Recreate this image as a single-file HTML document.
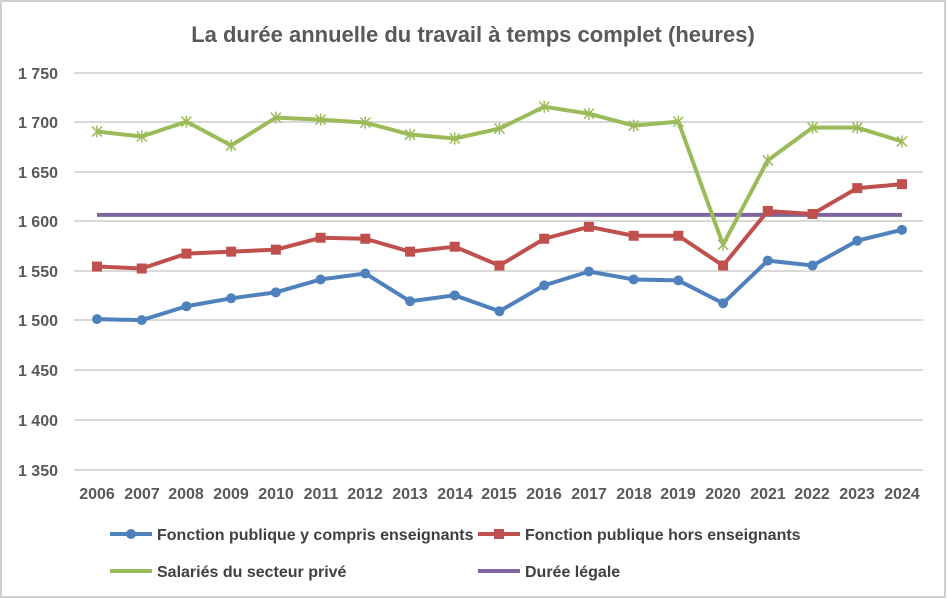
<!DOCTYPE html>
<html><head><meta charset="utf-8"><style>
html,body{margin:0;padding:0;background:#fff;}
svg{display:block;font-family:"Liberation Sans",Arial,sans-serif;}
.yl{font-size:16px;fill:#595959;font-weight:bold;text-anchor:end;}
.xl{font-size:16px;fill:#595959;font-weight:bold;text-anchor:middle;}
.lg{font-size:16px;fill:#404040;font-weight:bold;}
</style></head><body>
<svg id="s" width="947" height="599" viewBox="0 0 947 599">
<rect x="1" y="1" width="944" height="596" fill="#fff" stroke="#d0d0d0" stroke-width="2"/>
<text x="473" y="42" text-anchor="middle" font-size="22" font-weight="bold" fill="#595959">La durée annuelle du travail à temps complet (heures)</text>
<g stroke="#d9d9d9" stroke-width="2">
<line x1="74" x2="923" y1="73" y2="73"/><line x1="74" x2="923" y1="122" y2="122"/>
<line x1="74" x2="923" y1="172" y2="172"/><line x1="74" x2="923" y1="221" y2="221"/>
<line x1="74" x2="923" y1="271" y2="271"/><line x1="74" x2="923" y1="320" y2="320"/>
<line x1="74" x2="923" y1="370" y2="370"/><line x1="74" x2="923" y1="420" y2="420"/>
<line x1="74" x2="923" y1="470" y2="470"/>
</g>
<g class="yl">
<text x="58" y="79">1 750</text><text x="58" y="128">1 700</text><text x="58" y="178">1 650</text>
<text x="58" y="227">1 600</text><text x="58" y="277">1 550</text><text x="58" y="326">1 500</text>
<text x="58" y="376">1 450</text><text x="58" y="426">1 400</text><text x="58" y="476">1 350</text>
</g>
<g class="xl">
<text x="97" y="499">2006</text><text x="142" y="499">2007</text><text x="186" y="499">2008</text>
<text x="231" y="499">2009</text><text x="276" y="499">2010</text><text x="321" y="499">2011</text>
<text x="365" y="499">2012</text><text x="410" y="499">2013</text><text x="455" y="499">2014</text>
<text x="499" y="499">2015</text><text x="544" y="499">2016</text><text x="589" y="499">2017</text>
<text x="634" y="499">2018</text><text x="678" y="499">2019</text><text x="723" y="499">2020</text>
<text x="768" y="499">2021</text><text x="812" y="499">2022</text><text x="857" y="499">2023</text>
<text x="902" y="499">2024</text>
</g>
<g id="series"></g>
<g>
<line x1="110" x2="152" y1="534" y2="534" stroke="#4f81bd" stroke-width="4"/><circle cx="131" cy="534" r="5" fill="#4f81bd"/>
<text class="lg" x="157" y="540">Fonction publique y compris enseignants</text>
<line x1="478" x2="520" y1="534" y2="534" stroke="#c0504d" stroke-width="4"/><rect x="494" y="529" width="10" height="10" fill="#c0504d"/>
<text class="lg" x="525" y="540">Fonction publique hors enseignants</text>
<line x1="110" x2="152" y1="571" y2="571" stroke="#9bbb59" stroke-width="4"/>
<text class="lg" x="157" y="577">Salariés du secteur privé</text>
<line x1="478" x2="520" y1="571" y2="571" stroke="#8064a2" stroke-width="4"/>
<text class="lg" x="525" y="577">Durée légale</text>
</g>
</svg>
<script>
var NS="http://www.w3.org/2000/svg",g=document.getElementById("series");
function X(i){return 97+i*44.72}function Y(v){return 470-(v-1350)*0.9925}
function el(t,a){var e=document.createElementNS(NS,t);for(var k in a)e.setAttribute(k,a[k]);g.appendChild(e);return e}
var blue=[1502,1501,1515,1523,1529,1542,1548,1520,1526,1510,1536,1550,1542,1541,1518,1561,1556,1581,1592];
var red=[1555,1553,1568,1570,1572,1584,1583,1570,1575,1556,1583,1595,1586,1586,1556,1611,1608,1634,1638];
var green=[1691,1686,1701,1677,1705,1703,1700,1688,1684,1694,1716,1709,1697,1701,1577,1662,1695,1695,1681];
el("line",{x1:X(0),x2:X(18),y1:Y(1607),y2:Y(1607),stroke:"#8064a2","stroke-width":4});
function line(d,c){el("polyline",{points:d.map(function(v,i){return X(i)+","+Y(v)}).join(" "),fill:"none",stroke:c,"stroke-width":4,"stroke-linejoin":"round"})}
line(green,"#9bbb59");
green.forEach(function(v,i){var x=X(i),y=Y(v);el("path",{d:"M"+(x-5)+" "+(y-5)+"L"+(x+5)+" "+(y+5)+"M"+(x-5)+" "+(y+5)+"L"+(x+5)+" "+(y-5)+"M"+x+" "+(y-6)+"L"+x+" "+(y+6),stroke:"#9bbb59","stroke-width":1.5})});
line(red,"#c0504d");
red.forEach(function(v,i){el("rect",{x:X(i)-5,y:Y(v)-5,width:10,height:10,fill:"#c0504d"})});
line(blue,"#4f81bd");
blue.forEach(function(v,i){el("circle",{cx:X(i),cy:Y(v),r:5,fill:"#4f81bd"})});
</script>
</body></html>
